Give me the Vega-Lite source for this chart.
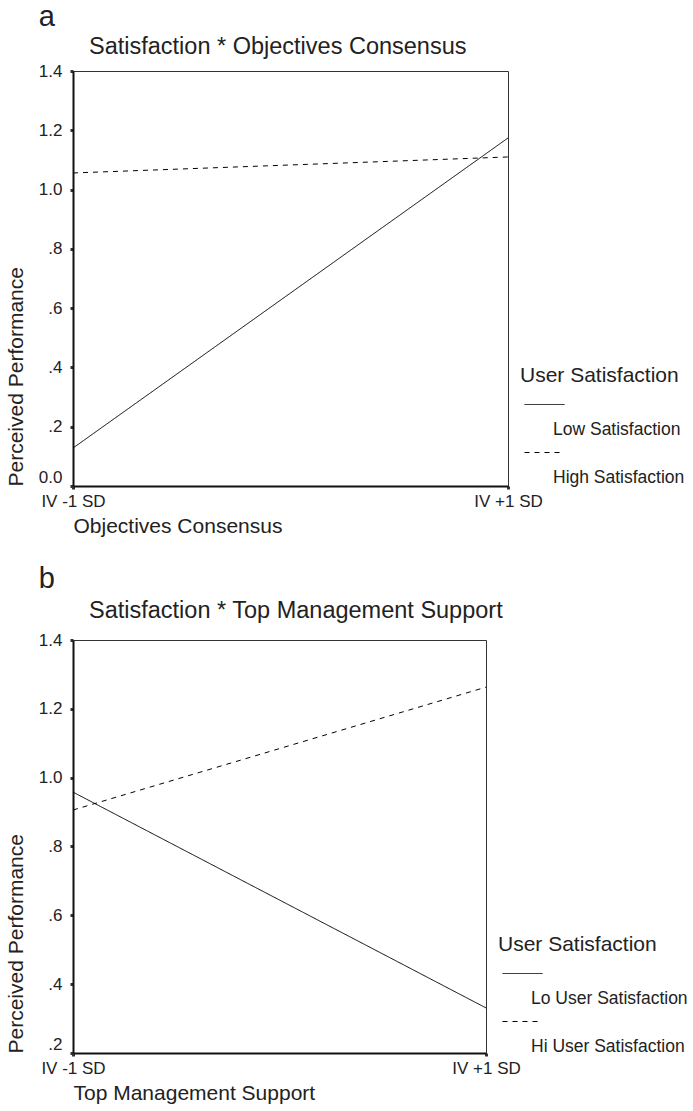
{
  "$schema": "https://vega.github.io/schema/vega-lite/v6.json",
  "padding": {"left": 4, "top": 3, "right": 0, "bottom": 0},
  "background": "white",
  "config": {
    "font": "Liberation Sans",
    "view": {"stroke": "#333", "strokeWidth": 1},
    "axis": {"grid": false, "domainColor": "#111", "domainWidth": 2, "tickColor": "#333", "tickSize": 3, "tickWidth": 3, "labelFontSize": 17, "labelColor": "#222", "titleFontSize": 21, "titleFontWeight": "normal", "titleColor": "#222", "labelPadding": 8},
    "axisX": {"labelPadding": 4},
    "legend": {"titleFontSize": 21, "titleFontWeight": "normal", "titleColor": "#222", "labelFontSize": 17.5, "labelColor": "#222", "symbolType": "M-0.6,-2.5L3.4,-2.5", "symbolSize": 400, "symbolStrokeWidth": 1, "symbolStrokeColor": "black", "symbolFillColor": "transparent", "labelOffset": 12, "rowPadding": 12, "titlePadding": 33, "padding": 0},
    "title": {"anchor": "start", "fontWeight": "normal", "color": "#222"},
    "concat": {"spacing": 28}
  },
  "resolve": {"scale": {"strokeDash": "independent", "x": "independent", "y": "independent"}, "legend": {"strokeDash": "independent"}},
  "vconcat": [
    {
      "title": {"text": "a", "fontSize": 29, "dx": 34, "offset": 2},
      "vconcat": [
        {
          "width": 435,
          "height": 415,
          "title": {"text": "Satisfaction * Objectives Consensus", "fontSize": 23.5, "frame": "group", "dx": 16, "offset": 4},
          "data": {"values": [
            {"x": 0, "pp": 0.128, "sat": "Low Satisfaction"},
            {"x": 1, "pp": 1.174, "sat": "Low Satisfaction"},
            {"x": 0, "pp": 1.056, "sat": "High Satisfaction"},
            {"x": 1, "pp": 1.110, "sat": "High Satisfaction"}
          ]},
          "mark": {"type": "line", "color": "black", "strokeWidth": 1},
          "encoding": {
            "x": {"field": "x", "type": "quantitative", "scale": {"domain": [0, 1], "nice": false, "zero": false},
              "axis": {"values": [0, 1], "labelExpr": "datum.value == 0 ? 'IV -1 SD' : 'IV +1 SD'", "labelFlush": false, "title": "Objectives Consensus", "titleAnchor": "start", "titleAlign": "left", "titlePadding": 6}},
            "y": {"field": "pp", "type": "quantitative", "scale": {"domain": [0, 1.4], "nice": false, "zero": false},
              "axis": {"values": [0, 0.2, 0.4, 0.6, 0.8, 1.0, 1.2, 1.4], "labelExpr": "datum.value == 0 ? '0.0' : datum.value < 1 ? replace(format(datum.value, '.1f'), '0.', '.') : format(datum.value, '.1f')",
                "labelBaseline": {"condition": {"test": "datum.value < 0.05", "value": "bottom"}, "value": "middle"},
                "title": "Perceived Performance", "titleAnchor": "start", "titlePadding": 12}},
            "strokeDash": {"field": "sat", "type": "nominal", "scale": {"domain": ["Low Satisfaction", "High Satisfaction"], "range": [[1, 0], [5, 5]]},
              "legend": {"title": "User Satisfaction", "orient": "none", "legendX": 447, "legendY": 294}}
          }
        }
      ]
    },
    {
      "title": {"text": "b", "fontSize": 29, "dx": 34, "offset": 4},
      "vconcat": [
        {
          "width": 413,
          "height": 413,
          "title": {"text": "Satisfaction * Top Management Support", "fontSize": 23.5, "frame": "group", "dx": 16, "offset": 9},
          "data": {"values": [
            {"x": 0, "pp": 0.958, "sat": "Lo User Satisfaction"},
            {"x": 1, "pp": 0.331, "sat": "Lo User Satisfaction"},
            {"x": 0, "pp": 0.906, "sat": "Hi User Satisfaction"},
            {"x": 1, "pp": 1.263, "sat": "Hi User Satisfaction"}
          ]},
          "mark": {"type": "line", "color": "black", "strokeWidth": 1},
          "encoding": {
            "x": {"field": "x", "type": "quantitative", "scale": {"domain": [0, 1], "nice": false, "zero": false},
              "axis": {"values": [0, 1], "labelExpr": "datum.value == 0 ? 'IV -1 SD' : 'IV +1 SD'", "labelFlush": false, "title": "Top Management Support", "titleAnchor": "start", "titleAlign": "left", "titlePadding": 6}},
            "y": {"field": "pp", "type": "quantitative", "scale": {"domain": [0.2, 1.4], "nice": false, "zero": false},
              "axis": {"values": [0.2, 0.4, 0.6, 0.8, 1.0, 1.2, 1.4], "labelExpr": "datum.value < 1 ? replace(format(datum.value, '.1f'), '0.', '.') : format(datum.value, '.1f')",
                "labelBaseline": {"condition": {"test": "datum.value < 0.25", "value": "bottom"}, "value": "middle"},
                "title": "Perceived Performance", "titleAnchor": "start", "titlePadding": 12}},
            "strokeDash": {"field": "sat", "type": "nominal", "scale": {"domain": ["Lo User Satisfaction", "Hi User Satisfaction"], "range": [[1, 0], [5, 5]]},
              "legend": {"title": "User Satisfaction", "orient": "none", "legendX": 425, "legendY": 294}}
          }
        }
      ]
    }
  ]
}
